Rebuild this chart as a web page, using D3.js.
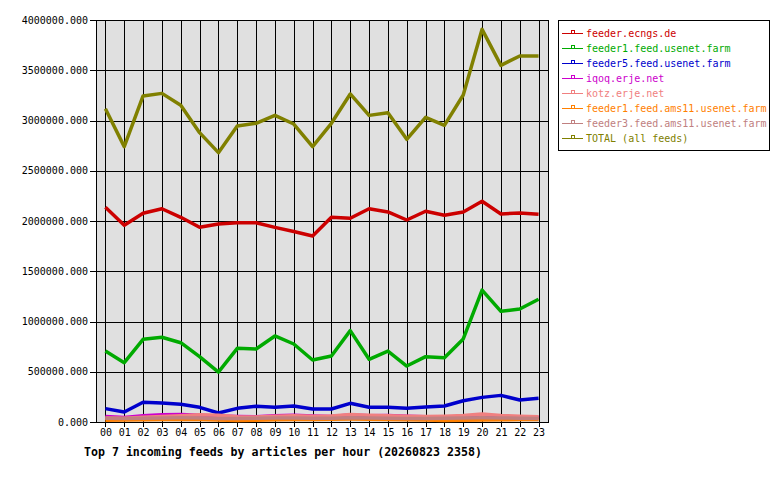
<!DOCTYPE html>
<html>
<head>
<meta charset="utf-8">
<script src="https://cdn.jsdelivr.net/npm/d3@7"></script>
<style>
  body { margin: 0; background: #fff; }
  text { font-family: "DejaVu Sans Mono", monospace; }
</style>
</head>
<body>
<div id="chart"></div>
<script>
//////////////////// data (articles per hour) ///////////////////
const hours = ["00","01","02","03","04","05","06","07","08","09","10","11",
               "12","13","14","15","16","17","18","19","20","21","22","23"];

const feederEcngs = [2136000,1957000,2077000,2122000,2037000,1937000,1970000,1983000,1983000,1937000,1895000,1851000,
                     2037000,2027000,2122000,2090000,2010000,2097000,2057000,2090000,2196000,2070000,2080000,2067000];
const feeder1Usenet = [706000,590000,823000,843000,789000,650000,497000,733000,726000,856000,776000,617000,
                       657000,909000,624000,706000,557000,650000,640000,826000,1313000,1101000,1124000,1221000];
const feeder5Usenet = [133000,99000,196000,189000,176000,146000,90000,136000,156000,146000,159000,129000,
                       129000,186000,146000,146000,136000,149000,159000,212000,245000,265000,219000,236000];
const iqoq = [55000,45000,62000,72000,74000,68000,60000,55000,52000,62000,68000,60000,
              55000,70000,62000,64000,58000,52000,50000,52000,60000,55000,48000,45000];
const kotz = [40000,38000,48000,55000,62000,72000,68000,52000,50000,58000,62000,58000,
              60000,75000,68000,62000,58000,55000,58000,65000,80000,65000,58000,52000];
const feeder1Ams11 = [18000,20000,22000,25000,28000,25000,20000,15000,18000,22000,25000,25000,
                      28000,30000,28000,25000,22000,20000,15000,18000,20000,22000,24000,25000];
const feeder3Ams11 = [38000,36000,38000,40000,42000,40000,36000,35000,38000,40000,40000,38000,
                      38000,42000,40000,38000,36000,36000,38000,40000,42000,40000,38000,36000];
const total = [3117000,2740000,3244000,3270000,3151000,2879000,2680000,2945000,2972000,3051000,2965000,2740000,
               2972000,3264000,3051000,3078000,2813000,3032000,2952000,3254000,3907000,3549000,3642000,3642000];

const seriesNames = ["feeder.ecngs.de","feeder1.feed.usenet.farm","feeder5.feed.usenet.farm","iqoq.erje.net",
                     "kotz.erje.net","feeder1.feed.ams11.usenet.farm","feeder3.feed.ams11.usenet.farm","TOTAL (all feeds)"];
const seriesValues = [feederEcngs, feeder1Usenet, feeder5Usenet, iqoq, kotz, feeder1Ams11, feeder3Ams11, total];
const seriesColors = ["#cc0000","#00aa00","#0000cc","#cc00cc","#f08080","#ff8000","#c08080","#808000"];

const yTicks = [0,500000,1000000,1500000,2000000,2500000,3000000,3500000,4000000];
const chartTitle = "Top 7 incoming feeds by articles per hour (20260823 2358)";

//////////////////// setup ///////////////////
const W = 780, H = 480;
const plot = { left: 96, right: 548, top: 20, bottom: 422 };

const svg = d3.select("#chart").append("svg")
    .attr("width", W)
    .attr("height", H);

const x = d3.scalePoint().domain(hours).range([plot.left, plot.right]).padding(0.5);
const y = d3.scaleLinear().domain([0, 4000000]).range([plot.bottom, plot.top]);

// grey plot background
svg.append("rect")
    .attr("x", plot.left).attr("y", plot.top)
    .attr("width", plot.right - plot.left).attr("height", plot.bottom - plot.top)
    .attr("fill", "#e0e0e0");

// grid lines (one per hour and per y tick)
const grid = svg.append("g").attr("shape-rendering", "crispEdges").attr("stroke", "#000");
grid.selectAll(".vgrid").data(hours).join("line")
    .attr("class", "vgrid")
    .attr("x1", (d) => Math.round(x(d)) + 0.5).attr("x2", (d) => Math.round(x(d)) + 0.5)
    .attr("y1", plot.top).attr("y2", plot.bottom + 5);
grid.selectAll(".hgrid").data(yTicks).join("line")
    .attr("class", "hgrid")
    .attr("x1", plot.left - 6).attr("x2", plot.right)
    .attr("y1", (d) => Math.round(y(d)) + 0.5).attr("y2", (d) => Math.round(y(d)) + 0.5);

// plot border
svg.append("rect")
    .attr("x", plot.left + 0.5).attr("y", plot.top + 0.5)
    .attr("width", plot.right - plot.left).attr("height", plot.bottom - plot.top)
    .attr("fill", "none").attr("stroke", "#000")
    .attr("shape-rendering", "crispEdges");

// axes (only labels, the lines are drawn above)
const yAxis = d3.axisLeft(y).tickValues(yTicks).tickFormat(d3.format(".3f")).tickSize(0).tickPadding(8);
svg.append("g").attr("transform", `translate(${plot.left},0)`).call(yAxis)
    .call((g) => g.select(".domain").remove())
    .selectAll("text")
    .attr("font-family", "DejaVu Sans Mono").attr("font-size", "10px").attr("fill", "#000");

const xAxis = d3.axisBottom(x).tickSize(0).tickPadding(7);
svg.append("g").attr("transform", `translate(0,${plot.bottom})`).call(xAxis)
    .call((g) => g.select(".domain").remove())
    .selectAll("text")
    .attr("font-family", "DejaVu Sans Mono").attr("font-size", "10px").attr("fill", "#000");

//////////////////// series lines ///////////////////
const lineFunc = d3.line()
    .x((d, i) => x(hours[i]))
    .y((d) => y(d));

svg.append("g").selectAll("path").data(seriesValues).join("path")
    .attr("d", (d) => lineFunc(d))
    .attr("fill", "none")
    .attr("stroke", (d, i) => seriesColors[i])
    .attr("stroke-width", 3.5)
    .attr("stroke-linejoin", "round");

//////////////////// legend ///////////////////
const legend = svg.append("g");
legend.append("rect")
    .attr("x", 558.5).attr("y", 20.5).attr("width", 211).attr("height", 130)
    .attr("fill", "#fff").attr("stroke", "#000").attr("shape-rendering", "crispEdges");

const rows = legend.selectAll(".row").data(seriesNames).join("g")
    .attr("class", "row")
    .attr("transform", (d, i) => `translate(0,${33 + i * 15})`);
rows.append("line")
    .attr("x1", 562).attr("x2", 583).attr("y1", 0.5).attr("y2", 0.5)
    .attr("stroke", (d, i) => seriesColors[i]).attr("stroke-width", 1)
    .attr("shape-rendering", "crispEdges");
rows.append("rect")
    .attr("x", 571.5).attr("y", -2.5).attr("width", 3).attr("height", 3)
    .attr("fill", "#fff").attr("stroke", (d, i) => seriesColors[i])
    .attr("shape-rendering", "crispEdges");
rows.append("text")
    .attr("x", 586).attr("y", 4)
    .attr("font-size", "10px")
    .attr("fill", (d, i) => seriesColors[i])
    .text((d) => d);

//////////////////// title ///////////////////
svg.append("text")
    .attr("x", 84).attr("y", 456)
    .attr("font-size", "11.6px").attr("font-weight", "bold")
    .attr("fill", "#000")
    .text(chartTitle);
</script>
</body>
</html>
